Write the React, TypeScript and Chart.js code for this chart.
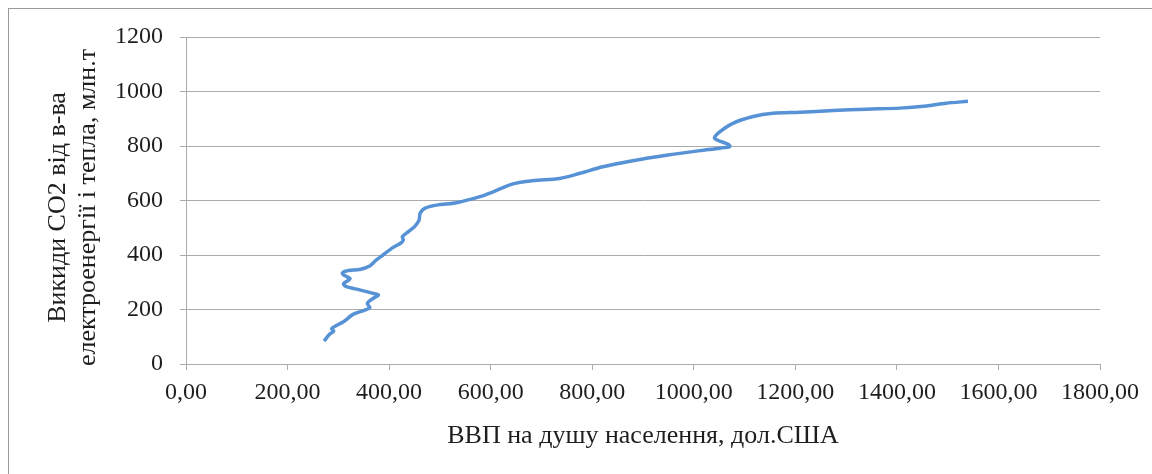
import React, { useEffect, useRef } from "react";
import { Chart, registerables } from "chart.js";

Chart.register(...registerables);

// GDP per capita, USD (x) and CO2 emissions from power & heat, mln t (y), in time order
const gdpPerCapita = [
  272, 283, 291, 287, 310, 329, 352, 362, 357, 372, 379, 369, 342, 316, 310, 320,
  323, 310, 308, 320, 342, 362, 375, 388, 408, 424, 428, 426, 438, 451, 459, 461,
  470, 493, 533, 579, 605, 644, 684, 736, 776, 821, 880, 946, 1012, 1051, 1071,
  1068, 1041, 1048, 1077, 1117, 1156, 1209, 1274, 1340, 1406, 1458, 1497, 1540,
];
const co2Emissions = [
  84, 110, 121, 130, 155, 182, 198, 207, 223, 245, 253, 259, 272, 284, 294, 308,
  314, 327, 335, 343, 347, 360, 382, 400, 428, 445, 455, 467, 486, 506, 528, 553,
  571, 583, 592, 614, 632, 661, 673, 681, 700, 724, 746, 766, 783, 792, 798,
  806, 828, 847, 883, 908, 920, 924, 930, 935, 939, 947, 957, 964,
];

const xTickLabels = [
  "0,00", "200,00", "400,00", "600,00", "800,00",
  "1000,00", "1200,00", "1400,00", "1600,00", "1800,00",
];
const yTickLabels = ["0", "200", "400", "600", "800", "1000", "1200"];

const xAxisTitle = "ВВП на душу населення, дол.США";
const yAxisTitle = ["Викиди СО2 від в-ва", "електроенергії і тепла, млн.т"];

const LINE_COLOR = "#5692d5";
const GRID_COLOR = "#ababab";
const TEXT_COLOR = "#1e1e1e";
const FONT = "'Liberation Serif', 'Times New Roman', serif";

// Draws the two-line rotated y-axis title, centred slightly below the plot middle (as in the source)
const yTitlePlugin = {
  id: "yTitle",
  afterDraw(chart: any) {
    const ctx = chart.ctx as CanvasRenderingContext2D;
    const area = chart.chartArea;
    const cy = (area.top + area.bottom) / 2 + 7;
    ctx.save();
    ctx.fillStyle = TEXT_COLOR;
    ctx.font = `26px ${FONT}`;
    ctx.textAlign = "center";
    ctx.textBaseline = "middle";
    yAxisTitle.forEach((line, i) => {
      ctx.save();
      ctx.translate(58 + i * 30, cy);
      ctx.rotate(-Math.PI / 2);
      ctx.fillText(line, 0, 0);
      ctx.restore();
    });
    ctx.restore();
  },
};

export default function App() {
  const ref = useRef<HTMLCanvasElement>(null);

  useEffect(() => {
    if (!ref.current) return;
    const points = gdpPerCapita.map((x, i) => ({ x, y: co2Emissions[i] }));
    const chart = new Chart(ref.current, {
      type: "scatter",
      data: {
        datasets: [
          {
            data: points,
            showLine: true,
            borderColor: LINE_COLOR,
            backgroundColor: LINE_COLOR,
            borderWidth: 3.5,
            pointRadius: 0,
            pointHoverRadius: 0,
            tension: 0.3,
            fill: false,
          },
        ],
      },
      options: {
        animation: false,
        responsive: false,
        layout: { padding: { left: 0, top: 37, right: 52, bottom: 0 } },
        plugins: {
          legend: { display: false },
          tooltip: { enabled: false },
        },
        scales: {
          x: {
            type: "linear",
            min: 0,
            max: 1800,
            afterFit: (scale: any) => {
              scale.height = 110;
            },
            ticks: {
              stepSize: 200,
              autoSkip: false,
              maxRotation: 0,
              padding: 8,
              color: TEXT_COLOR,
              font: { family: FONT, size: 24 },
              callback: (_v: any, i: number) => xTickLabels[i],
            },
            grid: {
              drawOnChartArea: false,
              drawTicks: true,
              tickLength: 6,
              color: GRID_COLOR,
            },
            border: { display: true, color: GRID_COLOR },
            title: {
              display: true,
              text: xAxisTitle,
              color: TEXT_COLOR,
              font: { family: FONT, size: 26, lineHeight: 30 / 26 },
              padding: { top: 0, bottom: 23 },
            },
          },
          y: {
            type: "linear",
            min: 0,
            max: 1200,
            afterFit: (scale: any) => {
              scale.width = 186;
            },
            ticks: {
              stepSize: 200,
              autoSkip: false,
              padding: 17,
              color: TEXT_COLOR,
              font: { family: FONT, size: 24 },
              callback: (_v: any, i: number) => yTickLabels[i],
            },
            grid: {
              drawTicks: true,
              tickLength: 6,
              color: GRID_COLOR,
            },
            border: { display: true, color: GRID_COLOR },
            title: { display: false },
          },
        },
      },
      plugins: [yTitlePlugin],
    });
    return () => chart.destroy();
  }, []);

  return (
    <div style={{ position: "fixed", left: 0, top: 0, width: 1152, height: 474, background: "#fff" }}>
      <div
        style={{
          position: "absolute",
          left: 8,
          top: 8,
          width: 1144,
          height: 466,
          borderTop: "1px solid #9a9a9a",
          borderLeft: "1px solid #9a9a9a",
          boxSizing: "border-box",
        }}
      />
      <canvas
        ref={ref}
        width={1152}
        height={474}
        style={{ position: "absolute", left: 0, top: 0, width: 1152, height: 474 }}
      />
    </div>
  );
}
